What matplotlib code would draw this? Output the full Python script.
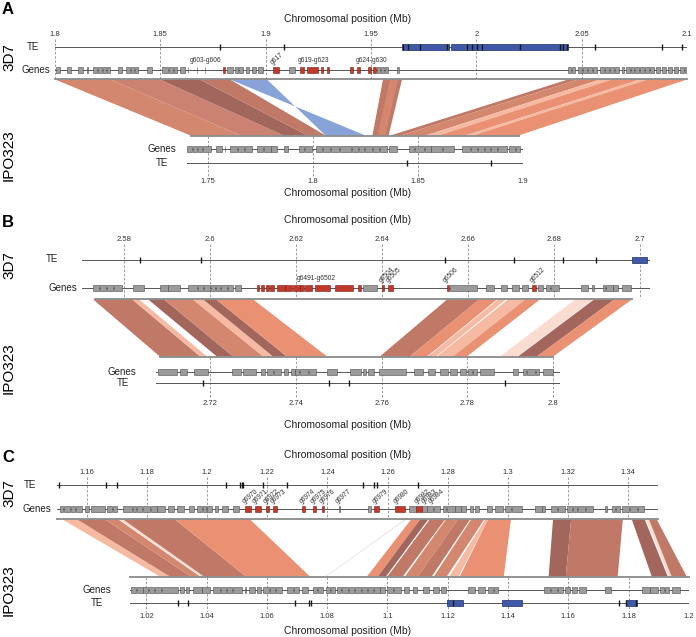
import matplotlib
matplotlib.use("Agg")
import matplotlib.pyplot as plt
from matplotlib.patches import Rectangle, Polygon

plt.rcParams['font.family'] = ['Liberation Sans', 'DejaVu Sans']

W, H = 696, 637

# ---------------- data: panel A (Mb) ----------------
a_top_ticks = [1.8, 1.85, 1.9, 1.95, 2.0, 2.05, 2.1]
a_bot_ticks = [1.75, 1.8, 1.85, 1.9]
a_top_grey = [(1.8005, 1.8024), (1.8057, 1.8076), (1.8109, 1.8133), (1.8150, 1.8155), (1.8180, 1.8200),
              (1.8204, 1.8223), (1.8228, 1.8240), (1.8247, 1.8260), (1.8300, 1.8320), (1.8337, 1.8356),
              (1.8360, 1.8375), (1.8380, 1.8394), (1.8437, 1.8460), (1.8508, 1.8536), (1.8540, 1.8560),
              (1.8565, 1.8580), (1.8593, 1.8617), (1.8629, 1.8633), (1.8672, 1.8676), (1.8710, 1.8714),
              (1.8816, 1.8845), (1.8854, 1.8868), (1.8873, 1.8892), (1.8906, 1.8920), (1.8935, 1.8954),
              (1.8963, 1.8987), (1.9110, 1.9139), (1.9528, 1.9542), (1.9547, 1.9560), (1.9566, 1.9580),
              (1.9623, 1.9633), (2.0435, 2.0449), (2.0454, 2.0468), (2.0482, 2.0501), (2.0506, 2.0525),
              (2.0530, 2.0549), (2.0553, 2.0572), (2.0587, 2.0606), (2.0610, 2.0629), (2.0634, 2.0653),
              (2.0658, 2.0677), (2.0691, 2.0700), (2.0710, 2.0729), (2.0734, 2.0748), (2.0753, 2.0772),
              (2.0776, 2.0795), (2.0800, 2.0819), (2.0824, 2.0843), (2.0852, 2.0871), (2.0881, 2.0900),
              (2.0909, 2.0928), (2.0938, 2.0957), (2.0966, 2.0985), (2.0990, 2.1000)]
a_top_red = [(1.8797, 1.8807), (1.9035, 1.9063), (1.9163, 1.9182), (1.9196, 1.9248), (1.9262, 1.9272),
             (1.9291, 1.9300), (1.9400, 1.9414), (1.9433, 1.9448), (1.9486, 1.9500), (1.9510, 1.9523)]
a_top_te = [1.8783, 1.9087, 1.9652, 1.9675, 1.9732, 1.9860, 1.9955, 1.9979, 2.0003, 2.0027,
            2.0207, 2.0397, 2.0411, 2.0430, 2.0563, 2.0880, 2.0976]
a_top_te_blocks = [(1.9647, 1.9868), (1.9882, 2.0435)]
a_top_labels = [("g603-g606", 1.8717, 0), ("g617", 1.9040, 40), ("g619-g623", 1.9229, 0), ("g624-g630", 1.9505, 0)]
a_bot_grey = [(1.7401, 1.7425), (1.7428, 1.7448), (1.7452, 1.7472), (1.7477, 1.7512), (1.7536, 1.7567),
              (1.7579, 1.7582), (1.7607, 1.7639), (1.7642, 1.7671), (1.7674, 1.7710), (1.7734, 1.7763),
              (1.7766, 1.7798), (1.7801, 1.7829), (1.7864, 1.7880), (1.7933, 1.7956), (1.7960, 1.7996),
              (1.8012, 1.8044), (1.8048, 1.8083), (1.8087, 1.8123), (1.8128, 1.8179), (1.8187, 1.8215),
              (1.8220, 1.8242), (1.8250, 1.8282), (1.8287, 1.8313), (1.8321, 1.8353), (1.8361, 1.8401),
              (1.8456, 1.8480), (1.8488, 1.8528), (1.8531, 1.8560), (1.8563, 1.8615), (1.8618, 1.8671),
              (1.8710, 1.8750), (1.8753, 1.8782), (1.8785, 1.8813), (1.8817, 1.8845), (1.8848, 1.8877),
              (1.8880, 1.8925), (1.8933, 1.8964), (1.8967, 1.8988)]
a_bot_te = [1.8448, 1.8849]
a_top_span = (1.8, 2.1)
a_bot_span = (1.7417, 1.8979)
# (top start, top end, bottom start, bottom end, shade)
a_ribbons = [(1.8000, 1.8261, 1.7417, 1.7655, 'salmon'), (1.8261, 1.8498, 1.7655, 1.7860, 'salmon2'),
             (1.8498, 1.8688, 1.7860, 1.7974, 'dark'), (1.8688, 1.8831, 1.7974, 1.8060, 'brown'),
             (1.8831, 1.9006, 1.8250, 1.8060, 'blue'),
             (1.9557, 1.9647, 1.8283, 1.8360, 'brown'), (1.9590, 1.9628, 1.8307, 1.8345, 'salmon'),
             (2.0435, 2.0482, 1.8369, 1.8417, 'brown'), (2.0482, 2.0587, 1.8417, 1.8536, 'salmon'),
             (2.0587, 2.0644, 1.8536, 1.8598, 'light'), (2.0644, 2.0776, 1.8598, 1.8726, 'orange'),
             (2.0776, 2.0814, 1.8726, 1.8760, 'light'), (2.0814, 2.1000, 1.8760, 1.8979, 'orange')]

# ---------------- data: panel B (Mb) ----------------
b_top_ticks = [2.58, 2.6, 2.62, 2.64, 2.66, 2.68, 2.7]
b_bot_ticks = [2.72, 2.74, 2.76, 2.78, 2.8]
b_top_grey = [(2.5728, 2.5742), (2.5745, 2.5757), (2.5760, 2.5773), (2.5777, 2.5795), (2.5821, 2.5847),
              (2.5884, 2.5901), (2.5903, 2.5930), (2.5949, 2.5969), (2.5971, 2.5983), (2.5985, 2.6000),
              (2.6002, 2.6012), (2.6014, 2.6023), (2.6026, 2.6040), (2.6042, 2.6054), (2.6058, 2.6072),
              (2.6356, 2.6388), (2.6558, 2.6621), (2.6642, 2.6661), (2.6677, 2.6691), (2.6702, 2.6719),
              (2.6726, 2.6739), (2.6763, 2.6774), (2.6781, 2.6791), (2.6793, 2.6812), (2.6863, 2.6879),
              (2.6888, 2.6893), (2.6914, 2.6919), (2.6921, 2.6936), (2.6938, 2.6949), (2.6958, 2.6979)]
b_top_red = [(2.6109, 2.6114), (2.6119, 2.6126), (2.6130, 2.6137), (2.6140, 2.6149), (2.6156, 2.6173),
             (2.6175, 2.6190), (2.6193, 2.6208), (2.6210, 2.6218), (2.6221, 2.6237), (2.6244, 2.6279),
             (2.6291, 2.6333), (2.6344, 2.6351), (2.6400, 2.6405), (2.6414, 2.6426), (2.6551, 2.6556),
             (2.6749, 2.6758)]
b_top_te = [2.5837, 2.5979, 2.6547, 2.6707, 2.6821, 2.6898]
b_top_te_blocks = [(2.6981, 2.7016)]
b_top_labels = [("g6491-g6502", 2.6202, 0), ("g6504", 2.6401, 45), ("g6505", 2.6418, 45),
                ("g6506", 2.6551, 45), ("g6512", 2.6752, 45)]
b_bot_grey = [(2.7079, 2.7123), (2.7130, 2.7146), (2.7163, 2.7195), (2.7251, 2.7273), (2.7276, 2.7307),
              (2.7319, 2.7328), (2.7333, 2.7347), (2.7349, 2.7365), (2.7372, 2.7382), (2.7389, 2.7397),
              (2.7399, 2.7407), (2.7410, 2.7428), (2.7431, 2.7447), (2.7473, 2.7496), (2.7526, 2.7552),
              (2.7557, 2.7564), (2.7568, 2.7582), (2.7594, 2.7657), (2.7676, 2.7697), (2.7708, 2.7725),
              (2.7736, 2.7755), (2.7759, 2.7776), (2.7783, 2.7797), (2.7801, 2.7811), (2.7813, 2.7822),
              (2.7829, 2.7862), (2.7906, 2.7918), (2.7930, 2.7937), (2.7939, 2.7957), (2.7959, 2.7967),
              (2.7976, 2.7999)]
b_bot_te = [2.7184, 2.7477, 2.7524, 2.7888]
b_top_span = (2.5733, 2.6981)
b_bot_span = (2.7083, 2.8000)
b_ribbons = [(2.5728, 2.5819, 2.7083, 2.7177, 'brown'), (2.5819, 2.5835, 2.7177, 2.7193, 'light'),
             (2.5856, 2.5893, 2.7216, 2.7254, 'dark'), (2.5893, 2.5960, 2.7254, 2.7324, 'salmon'),
             (2.5960, 2.5984, 2.7324, 2.7347, 'light'), (2.5984, 2.6014, 2.7347, 2.7379, 'dark'),
             (2.6014, 2.6100, 2.7379, 2.7473, 'orange'),
             (2.6551, 2.6626, 2.7596, 2.7666, 'brown'), (2.6626, 2.6667, 2.7666, 2.7706, 'orange'),
             (2.6670, 2.6688, 2.7708, 2.7727, 'light'), (2.6693, 2.6733, 2.7729, 2.7766, 'light'),
             (2.6733, 2.6767, 2.7766, 2.7799, 'orange'), (2.6849, 2.6891, 2.7876, 2.7916, 'pale'),
             (2.6893, 2.6940, 2.7918, 2.7962, 'dark'), (2.6940, 2.6981, 2.7962, 2.8000, 'orange')]

# ---------------- data: panel C (Mb) ----------------
c_top_ticks = [1.16, 1.18, 1.2, 1.22, 1.24, 1.26, 1.28, 1.3, 1.32, 1.34]
c_bot_ticks = [1.02, 1.04, 1.06, 1.08, 1.1, 1.12, 1.14, 1.16, 1.18, 1.2]
c_top_grey = [(1.1512, 1.1522), (1.1525, 1.1544), (1.1546, 1.1561), (1.1563, 1.1585), (1.1595, 1.1608),
              (1.1615, 1.1661), (1.1668, 1.1685), (1.1688, 1.1701), (1.1721, 1.1751), (1.1754, 1.1764),
              (1.1768, 1.1784), (1.1788, 1.1811), (1.1814, 1.1833), (1.1835, 1.1861), (1.1871, 1.1891),
              (1.1901, 1.1924), (1.1941, 1.1957), (1.1967, 1.1983), (1.1985, 1.1997), (1.2000, 1.2017),
              (1.2027, 1.2037), (1.2050, 1.2070), (1.2087, 1.2107), (1.2437, 1.2441), (1.2535, 1.2545),
              (1.2671, 1.2695), (1.2715, 1.2730), (1.2732, 1.2751), (1.2755, 1.2775), (1.2785, 1.2794),
              (1.2798, 1.2823), (1.2825, 1.2843), (1.2845, 1.2861), (1.2874, 1.2884), (1.2891, 1.2904),
              (1.2931, 1.2947), (1.2957, 1.2984), (1.2990, 1.3010), (1.3014, 1.3047), (1.3090, 1.3112),
              (1.3114, 1.3123), (1.3143, 1.3163), (1.3166, 1.3190), (1.3196, 1.3213), (1.3216, 1.3230),
              (1.3233, 1.3256), (1.3260, 1.3283), (1.3323, 1.3329), (1.3346, 1.3356), (1.3359, 1.3372),
              (1.3379, 1.3402), (1.3406, 1.3429), (1.3432, 1.3452)]
c_top_red = [(1.2127, 1.2147), (1.2160, 1.2180), (1.2196, 1.2206), (1.2220, 1.2233), (1.2316, 1.2326),
             (1.2353, 1.2363), (1.2382, 1.2389), (1.2555, 1.2571), (1.2625, 1.2658), (1.2695, 1.2715)]
c_top_te = [1.1506, 1.1665, 1.1702, 1.2063, 1.2111, 1.2115, 1.2119, 1.2187, 1.2267,
            1.2518, 1.2556, 1.2564, 1.2702]
c_top_labels = [("g6970", 1.2130, 40), ("g6971", 1.2163, 40), ("g6972", 1.2198, 40), ("g6973", 1.2222, 40),
                ("g6974", 1.2318, 40), ("g6975", 1.2355, 40), ("g6976", 1.2384, 40), ("g6977", 1.2439, 40),
                ("g6979", 1.2560, 40), ("g6980", 1.2632, 40), ("g6982", 1.2700, 40), ("g6983", 1.2722, 40),
                ("g6984", 1.2748, 40)]
c_bot_grey = [(1.0149, 1.0167), (1.0170, 1.0188), (1.0190, 1.0206), (1.0208, 1.0226), (1.0228, 1.0247),
              (1.0252, 1.0304), (1.0310, 1.0325), (1.0333, 1.0341), (1.0355, 1.0384), (1.0386, 1.0411),
              (1.0422, 1.0445), (1.0449, 1.0465), (1.0467, 1.0485), (1.0487, 1.0516), (1.0526, 1.0532),
              (1.0539, 1.0559), (1.0566, 1.0579), (1.0586, 1.0606), (1.0610, 1.0627), (1.0631, 1.0651),
              (1.0667, 1.0687), (1.0691, 1.0707), (1.0718, 1.0737), (1.0754, 1.0767), (1.0769, 1.0785),
              (1.0795, 1.0808), (1.0812, 1.0826), (1.0832, 1.0845), (1.0849, 1.0869), (1.0871, 1.0889),
              (1.0893, 1.0912), (1.0916, 1.0933), (1.0936, 1.0952), (1.0956, 1.0974), (1.0976, 1.0992),
              (1.0997, 1.1017), (1.1023, 1.1044), (1.1054, 1.1070), (1.1084, 1.1097), (1.1118, 1.1138),
              (1.1151, 1.1171), (1.1178, 1.1194), (1.1266, 1.1289), (1.1299, 1.1324), (1.1333, 1.1350),
              (1.1353, 1.1367), (1.1521, 1.1541), (1.1543, 1.1562), (1.1566, 1.1582), (1.1589, 1.1606),
              (1.1612, 1.1629), (1.1636, 1.1659), (1.1723, 1.1741), (1.1845, 1.1870), (1.1872, 1.1898),
              (1.1905, 1.1918), (1.1921, 1.1934), (1.1945, 1.1972)]
c_bot_te = [1.0304, 1.0339, 1.0694, 1.0741, 1.0745, 1.1216, 1.1768, 1.1792, 1.1825]
c_bot_te_blocks = [(1.1198, 1.1252), (1.1380, 1.1447), (1.1790, 1.1827)]
c_top_span = (1.15, 1.35)
c_bot_span = (1.0145, 1.2)
c_ribbons = [(1.1519, 1.1568, 1.0245, 1.0278, 'light'), (1.1568, 1.1661, 1.0278, 1.0348, 'brown'),
             (1.1661, 1.1705, 1.0348, 1.0378, 'salmon'), (1.1708, 1.1721, 1.0381, 1.0391, 'pale'),
             (1.1721, 1.1894, 1.0391, 1.0530, 'brown'), (1.1894, 1.2143, 1.0530, 1.0743, 'orange'),
             (1.2655, 1.2665, 1.0792, 1.0799, 'ghost'),
             (1.2678, 1.2708, 1.0932, 1.0968, 'orange'), (1.2708, 1.2735, 1.0968, 1.0995, 'dark'),
             (1.2740, 1.2791, 1.1000, 1.1051, 'brown'), (1.2794, 1.2834, 1.1058, 1.1101, 'salmon'),
             (1.2834, 1.2874, 1.1101, 1.1147, 'brown'), (1.2878, 1.2921, 1.1154, 1.1197, 'salmon'),
             (1.2925, 1.2934, 1.1205, 1.1236, 'light'),
             (1.2934, 1.3010, 1.1240, 1.1386, 'orange'),
             (1.3150, 1.3210, 1.1535, 1.1592, 'dark'), (1.3210, 1.3382, 1.1592, 1.1764, 'brown'),
             (1.3412, 1.3455, 1.1877, 1.1930, 'dark'), (1.3459, 1.3469, 1.1933, 1.1943, 'pale'),
             (1.3469, 1.3495, 1.1943, 1.1993, 'brown')]

# ---------------- styles ----------------
shades = {'salmon': '#d4876f', 'salmon2': '#cc8270', 'dark': '#a2665c', 'brown': '#c07867',
          'light': '#f6b9a1', 'pale': '#fbdcd0', 'orange': '#ea9173', 'blue': '#87a3d8',
          'ghost': '#eeeeee'}
GREY, RED, TEBLUE = '#9b9b9b', '#c0392b', '#3f58a8'

fig = plt.figure(figsize=(W / 100, H / 100), dpi=100)


def px_ax(x0, x1, y0, y1, lim):
    # axes placed in pixel layout; y data runs in pixel rows (inverted)
    ax = fig.add_axes([x0 / W, 1 - y1 / H, (x1 - x0) / W, (y1 - y0) / H])
    ax.set_xlim(*lim)
    ax.set_ylim(y1, y0)
    ax.patch.set_visible(False)
    for s in ax.spines.values():
        s.set_visible(False)
    ax.set_yticks([])
    return ax


def track(ax, ticks, grey, red, te, te_blocks, span, gene_y, te_y, sep_y, top):
    y_lo, y_hi = ax.get_ylim()
    ax.vlines(ticks, y_hi, y_lo, colors='#8c8c8c', linestyles=(0, (3, 2)), lw=0.6, zorder=1)
    lo, hi = ax.get_xlim()
    ax.plot([lo, hi], [gene_y, gene_y], color='#555555', lw=0.7, zorder=2)
    ax.plot([lo, hi], [te_y, te_y], color='#555555', lw=0.7, zorder=2)
    ax.plot(span, [sep_y, sep_y], color='#8a8a8a', lw=1.3, clip_on=False, zorder=2)
    for s, e in grey:
        ax.add_patch(Rectangle((s, gene_y - 2.75), e - s, 5.5, fc=GREY, ec='#4d4d4d', lw=0.4, zorder=3))
    for s, e in red:
        ax.add_patch(Rectangle((s, gene_y - 2.75), e - s, 5.5, fc=RED, ec='#7a1f18', lw=0.4, zorder=3))
    for s, e in te_blocks:
        ax.add_patch(Rectangle((s, te_y - 3), e - s, 6, fc=TEBLUE, ec='#1e2d66', lw=0.5, zorder=3))
    ax.vlines(te, te_y - 3, te_y + 3, colors='#1a1a1a', lw=1.0, zorder=4)
    ax.set_xticks(ticks)
    ax.set_xticklabels(['%g' % t for t in ticks])
    if top:
        ax.xaxis.tick_top()
    ax.tick_params(axis='x', length=0, pad=0.5, labelsize=5.5, labelcolor='#333333')


def gene_labels(ax, labels, y_flat, y_rot, flat_ha='center'):
    for text, x, rot in labels:
        if rot:
            ax.text(x, y_rot, text, rotation=rot, rotation_mode='anchor', ha='left', va='bottom',
                    fontsize=4.8, color='#333333')
        else:
            ax.text(x, y_flat, text, ha=flat_ha, va='center', fontsize=4.8, color='#333333')


def ribbons(ax_t, ax_b, y_t, y_b, data):
    inv = fig.transFigure.inverted()
    for ts, te_, bs, be, shade in data:
        pts = [ax_t.transData.transform((ts, y_t)), ax_t.transData.transform((te_, y_t)),
               ax_b.transData.transform((be, y_b)), ax_b.transData.transform((bs, y_b))]
        fig.add_artist(Polygon(inv.transform(pts), closed=True, transform=fig.transFigure,
                               fc=shades[shade], ec='none', zorder=-1))


def ftext(x, y, s, **kw):
    fig.text(x / W, 1 - y / H, s, **kw)


# ---------------- panel A ----------------
axA1 = px_ax(55, 687, 39, 79, (1.8, 2.1))
track(axA1, a_top_ticks, a_top_grey, a_top_red, a_top_te, a_top_te_blocks, a_top_span, 70, 47, 79, True)
gene_labels(axA1, a_top_labels, 60, 66)
axA2 = px_ax(187.2, 523, 136, 177, (1.7401, 1.9))
track(axA2, a_bot_ticks, a_bot_grey, [], a_bot_te, [], a_bot_span, 149, 163, 136, False)
ribbons(axA1, axA2, 79.5, 135.5, a_ribbons)

# ---------------- panel B ----------------
axB1 = px_ax(82, 650, 244, 299, (2.5702, 2.7023))
track(axB1, b_top_ticks, b_top_grey, b_top_red, b_top_te, b_top_te_blocks, b_top_span, 288, 260, 299, True)
gene_labels(axB1, b_top_labels, 279, 284, flat_ha='left')
axB2 = px_ax(156, 560, 357, 399, (2.7074, 2.8016))
track(axB2, b_bot_ticks, b_bot_grey, [], b_bot_te, [], b_bot_span, 372, 383, 357, False)
ribbons(axB1, axB2, 299.5, 356.5, b_ribbons)

# ---------------- panel C ----------------
axC1 = px_ax(56.7, 658.3, 477, 519, (1.15, 1.35))
track(axC1, c_top_ticks, c_top_grey, c_top_red, c_top_te, [], c_top_span, 509, 485, 519, True)
gene_labels(axC1, c_top_labels, 500, 505)
axC2 = px_ax(129.8, 688.8, 577, 612, (1.0145, 1.2))
track(axC2, c_bot_ticks, c_bot_grey, [], c_bot_te, c_bot_te_blocks, c_bot_span, 590, 603, 577, False)
ribbons(axC1, axC2, 519.5, 576.5, c_ribbons)

# ---------------- text ----------------
for lab, y in [("A", 10), ("B", 222), ("C", 458)]:
    ftext(8, y, lab, fontsize=12, fontweight='bold', ha='center', va='center')
for y in [19, 193, 220, 425, 455, 631]:
    ftext(348, y, "Chromosomal position (Mb)", fontsize=7.5, ha='center', va='center', color='#222222')
for y in [57, 265, 493]:
    ftext(9, y, "3D7", fontsize=11, rotation=90, ha='center', va='center')
for y in [155, 368, 590]:
    ftext(9, y, "IPO323", fontsize=11, rotation=90, ha='center', va='center')
track_names = [("TE", 33, 47), ("Genes", 36, 70), ("Genes", 162, 149), ("TE", 162, 163),
               ("TE", 52, 259), ("Genes", 63, 288), ("Genes", 122, 372), ("TE", 123, 383),
               ("TE", 30, 485), ("Genes", 37, 509), ("Genes", 97, 590), ("TE", 97, 603)]
for s, x, y in track_names:
    ftext(x, y, s, fontsize=7, ha='center', va='center', color='#222222')

fig.savefig("out.png", dpi=100)
